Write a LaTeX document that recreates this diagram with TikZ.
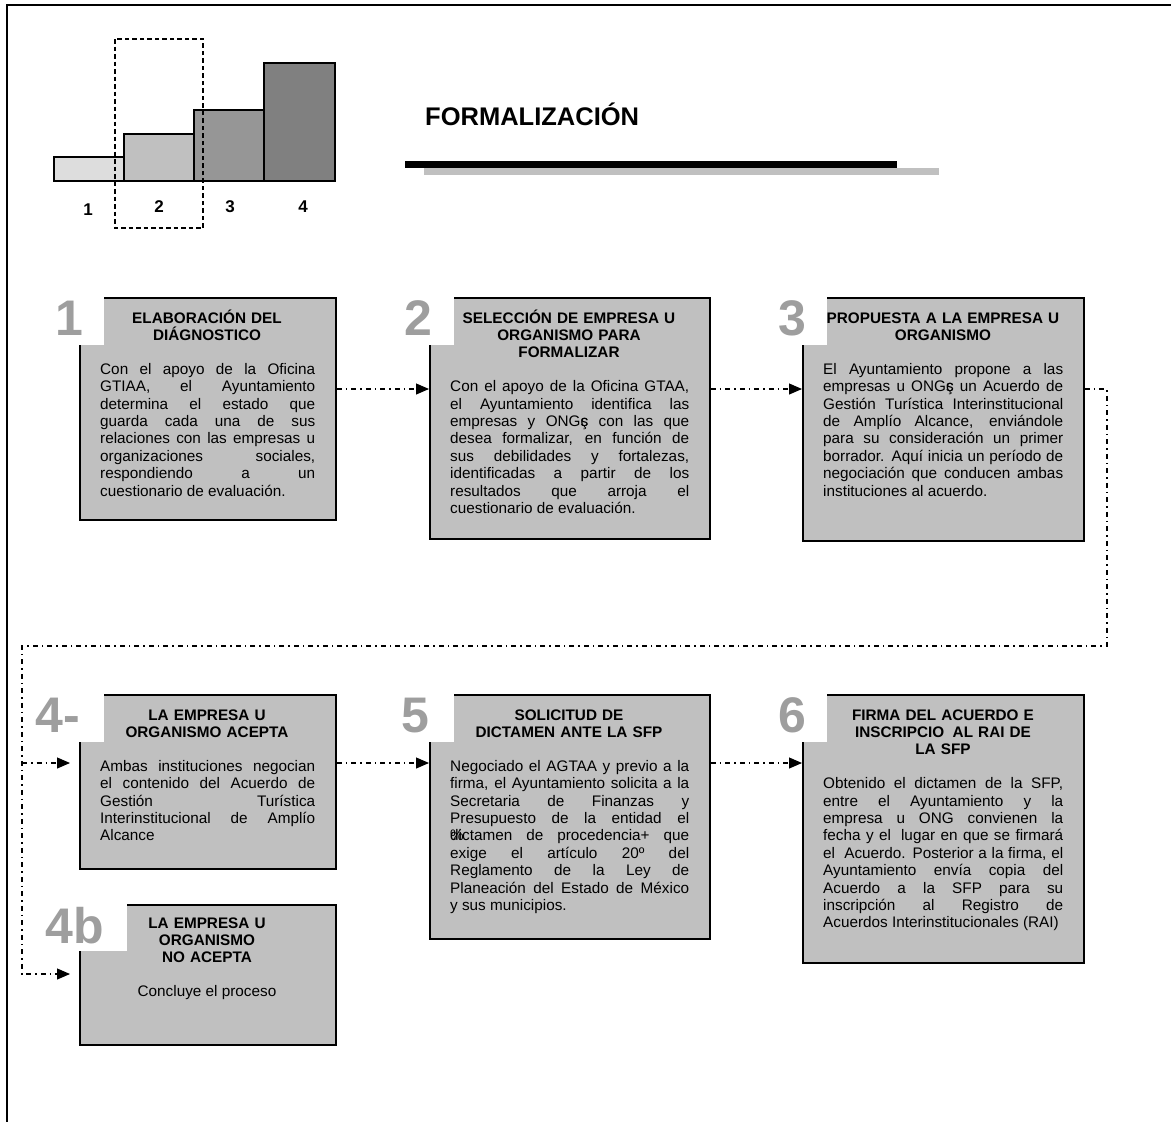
\documentclass[tikz,border=0pt]{standalone}
\usepackage{fontspec}
\setmainfont{Liberation Sans}
\usetikzlibrary{arrows.meta}
\lineskiplimit=-100pt
\definecolor{boxgray}{RGB}{192,192,192}
\definecolor{numgray}{RGB}{158,158,158}
\definecolor{barA}{RGB}{221,221,221}
\definecolor{barB}{RGB}{192,192,192}
\definecolor{barC}{RGB}{150,150,150}
\definecolor{barD}{RGB}{128,128,128}
\definecolor{linegray}{RGB}{192,192,192}
\newcommand{\ongs}{ONG\makebox[0pt][l]{ç}s}
\begin{document}
\begin{tikzpicture}[x=1pt,y=-1pt,
  stepbox/.style={draw=black, line width=1.8pt, fill=boxgray, anchor=north west, inner sep=0pt},
  bignum/.style={font=\fontsize{50}{50}\selectfont\bfseries, text=numgray, anchor=base east, inner sep=0pt},
  head/.style={font=\fontsize{15.3}{17.3}\selectfont\bfseries, align=center, anchor=base, inner sep=0pt, text width=#1},
  body/.style={font=\fontsize{15.3}{17.4}\selectfont, align=justify, anchor=base west, inner sep=0pt, text width=#1},
  barlab/.style={font=\fontsize{17}{17}\selectfont\bfseries, anchor=base, inner sep=0pt},
  flow/.style={line width=1.1pt, dash pattern=on 5pt off 4pt on 1.5pt off 4pt},
  tip/.style={-{Triangle[length=13pt,width=11pt]}},
]
\useasboundingbox (0,0) rectangle (1171,1122);
% frame
\draw[line width=2pt] (7,1122) -- (7,5) -- (1171,5);
% bars
\draw[line width=1.3pt, fill=barA] (54,157) rectangle (124,181);
\draw[line width=1.3pt, fill=barB] (124,134) rectangle (194,181);
\draw[line width=1.3pt, fill=barC] (194,110) rectangle (264,181);
\draw[line width=1.3pt, fill=barD] (264,63) rectangle (335,181);
\draw[line width=1.1pt, dash pattern=on 4.5pt off 3pt] (115,39) rectangle (203,228);
\node[barlab] (l1) at (88,215) {1};
\node[barlab] (l2) at (159,212) {2};
\node[barlab] (l3) at (230,212) {3};
\node[barlab] (l4) at (303,212) {4};
% title
\node[anchor=base west, font=\fontsize{25.5}{25.5}\selectfont\bfseries, inner sep=0pt] (title) at (425,125) {FORMALIZACIÓN};
\fill[linegray] (424,168) rectangle (939,175);
\fill[black] (405,161) rectangle (897,168);

% ---------- boxes row 1
\node[stepbox, minimum width=256pt, minimum height=222pt] (b1) at (79,297) {};
\node[stepbox, minimum width=280pt, minimum height=241pt] (b2) at (429,297) {};
\node[stepbox, minimum width=281pt, minimum height=243pt] (b3) at (802,297) {};
% row 2
\node[stepbox, minimum width=256pt, minimum height=174pt] (b4) at (79,694) {};
\node[stepbox, minimum width=280pt, minimum height=244pt] (b5) at (429,694) {};
\node[stepbox, minimum width=281pt, minimum height=268pt] (b6) at (802,694) {};
\node[stepbox, minimum width=256pt, minimum height=140pt] (b7) at (79,904) {};

% white corner patches
\fill[white] (74,292) rectangle (104,345);
\fill[white] (424,292) rectangle (454,345);
\fill[white] (797,292) rectangle (827,345);
\fill[white] (74,689) rectangle (104,742);
\fill[white] (424,689) rectangle (454,742);
\fill[white] (797,689) rectangle (827,742);
\fill[white] (74,899) rectangle (127,951);

% big numbers
\node[bignum] (n1) at (84,335) {1};
\node[bignum] (n2) at (433,335) {2};
\node[bignum] (n3) at (807,335) {3};
\node[bignum] (n4) at (80,732) {4-};
\node[bignum] (n5) at (430,732) {5};
\node[bignum] (n6) at (807,732) {6};
\node[bignum] (n7) at (104,943) {4b};

% headings
\node[head=250pt] (h1) at (207,323) {ELABORACIÓN DEL\\DIÁGNOSTICO};
\node[head=270pt] (h2) at (569,323) {SELECCIÓN DE EMPRESA U\\ORGANISMO PARA\\FORMALIZAR};
\node[head=270pt] (h3) at (943,323) {PROPUESTA A LA EMPRESA U\\ORGANISMO};
\node[head=250pt] (h4) at (207,720) {LA EMPRESA U\\ORGANISMO ACEPTA};
\node[head=270pt] (h5) at (569,720) {SOLICITUD DE\\DICTAMEN ANTE LA SFP};
\node[head=270pt] (h6) at (943,720) {FIRMA DEL ACUERDO E\\INSCRIPCIO\hspace{0.55em}AL RAI DE\\LA SFP};
\node[head=250pt] (h7) at (207,928) {LA EMPRESA U\\ORGANISMO\\NO ACEPTA};

% body texts
\node[body=215pt] (t1) at (100,374.3) {Con el apoyo de la Oficina\linebreak
GTIAA, el Ayuntamiento\linebreak
determina el estado que\linebreak
guarda cada una de sus\linebreak
relaciones con las empresas u\linebreak
organizaciones sociales,\linebreak
respondiendo a un\linebreak
cuestionario de evaluación.};
\node[body=239pt] (t2) at (450,391.6) {Con el apoyo de la Oficina GTAA,\linebreak
el Ayuntamiento identifica las\linebreak
empresas y \ongs{} con las que\linebreak
desea formalizar, en función de\linebreak
sus debilidades y fortalezas,\linebreak
identificadas a partir de los\linebreak
resultados que arroja el\linebreak
cuestionario de evaluación.};
\node[body=240pt] (t3) at (823,374.3) {El Ayuntamiento propone a las\linebreak
empresas u \ongs{} un Acuerdo de\linebreak
Gestión Turística Interinstitucional\linebreak
de Amplío Alcance, enviándole\linebreak
para su consideración un primer\linebreak
borrador. Aquí inicia un período de\linebreak
negociación que conducen ambas\linebreak
instituciones al acuerdo.};
\node[body=215pt] (t4) at (100,771.3) {Ambas instituciones negocian\linebreak
el contenido del Acuerdo de\linebreak
Gestión Turística\linebreak
Interinstitucional de Amplío\linebreak
Alcance};
\node[body=239pt] (t5) at (450,771.3) {Negociado el AGTAA y previo a la\linebreak
firma, el Ayuntamiento solicita a la\linebreak
Secretaria de Finanzas y\linebreak
Presupuesto de la entidad el\linebreak
\makebox[0pt][l]{\%}dictamen de procedencia+ que\linebreak
exige el artículo 20º del\linebreak
Reglamento de la Ley de\linebreak
Planeación del Estado de México\linebreak
y sus municipios.};
\node[body=240pt] (t6) at (823,788.6) {Obtenido el dictamen de la SFP,\linebreak
entre el Ayuntamiento y la\linebreak
empresa u ONG convienen la\linebreak
fecha y el\hspace{0.3em} lugar en que se firmará\linebreak
el\hspace{0.3em} Acuerdo. Posterior a la firma, el\linebreak
Ayuntamiento envía copia del\linebreak
Acuerdo a la SFP para su\linebreak
inscripción al Registro de\linebreak
Acuerdos Interinstitucionales (RAI)};
\node[font=\fontsize{15.3}{17.4}\selectfont, anchor=base, inner sep=0pt] (t7) at (207,996.6) {Concluye el proceso};

% connectors
\coordinate (r1) at (0,389);
\coordinate (r2) at (0,763);
\coordinate (k1) at (1107,389);
\coordinate (k2) at (1107,646);
\coordinate (k3) at (22,646);
\coordinate (k4) at (22,974);
\draw[flow,tip] (b1.east |- r1) -- (b2.west |- r1);
\draw[flow,tip] (b2.east |- r1) -- (b3.west |- r1);
\draw[flow,tip,shorten >=9pt] (b3.east |- r1) -- (k1) -- (k2) -- (k3) -- (k4) -- (b7.west |- k4);
\draw[flow,tip,shorten >=9pt] (k3 |- r2) -- (b4.west |- r2);
\draw[flow,tip] (b4.east |- r2) -- (b5.west |- r2);
\draw[flow,tip] (b5.east |- r2) -- (b6.west |- r2);
\end{tikzpicture}
\end{document}
